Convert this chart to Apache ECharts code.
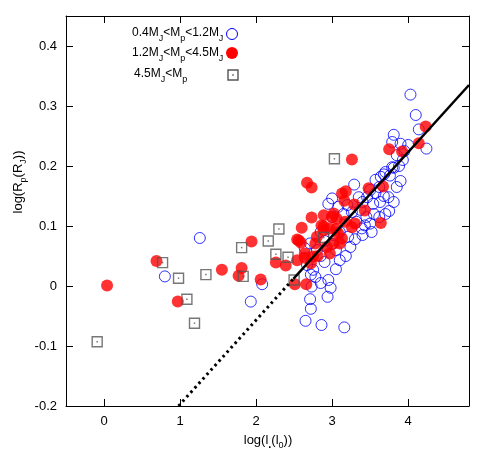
<!DOCTYPE html>
<html>
<head>
<meta charset="utf-8">
<script src="https://cdn.jsdelivr.net/npm/echarts@6/dist/echarts.min.js"></script>
<style>html,body{margin:0;padding:0;background:#fff}#c{width:494px;height:463px}</style>
</head>
<body>
<div id="c"></div>
<script>
// 0.4 MJ < Mp < 1.2 MJ  (open blue circles)
const lowMass = [
  [0.80,0.016],[1.26,0.080],[1.93,-0.026],[2.08,0.003],
  [2.65,-0.058],[2.72,-0.038],[2.71,-0.022],[2.73,-0.001],[2.86,-0.065],[3.16,-0.069],[2.94,-0.018],[2.98,-0.003],
  [2.72,0.019],[2.78,0.015],[2.67,0.035],[2.75,0.027],[2.64,0.063],[2.71,0.071],[2.85,0.050],[2.80,0.060],
  [2.90,0.040],[3.10,0.043],[3.24,0.065],[3.05,0.060],[3.18,0.050],[3.05,0.028],[2.95,0.010],[2.85,0.005],[3.00,0.070],
  [3.02,0.085],[3.21,0.082],[3.39,0.096],[3.52,0.090],[3.43,0.101],[3.50,0.104],[3.32,0.107],[3.37,0.127],[3.26,0.123],
  [3.46,0.148],[3.35,0.148],[3.57,0.155],[3.68,0.150],[3.54,0.137],[3.63,0.140],[3.81,0.140],[3.74,0.148],
  [3.00,0.146],[2.95,0.137],[3.08,0.132],[3.29,0.169],[3.79,0.198],[3.70,0.190],[3.64,0.182],[3.76,0.184],
  [3.68,0.186],[3.57,0.177],[3.81,0.252],[3.79,0.240],[3.90,0.237],[3.85,0.218],[3.93,0.210],[3.81,0.197],
  [4.03,0.319],[4.10,0.285],[4.14,0.261],[4.24,0.229],[3.00,0.115],
  [3.55,0.120],[3.45,0.115],[3.62,0.115],[3.70,0.120],[3.75,0.125],[3.85,0.165],[3.90,0.175],[3.40,0.085],
  [3.30,0.078],[3.10,0.090],[2.90,0.075],[2.85,0.090],[3.15,0.120],[3.20,0.135],[3.40,0.140],[3.50,0.160],
  [3.62,0.165],[3.95,0.225],[4.00,0.235],[3.88,0.200]
];
// 1.2 MJ < Mp < 4.5 MJ  (filled red circles)
const midMass = [
  [0.04,0.001],[0.69,0.0415],[0.97,-0.026],[1.55,0.027],[1.77,0.017],[1.81,0.030],[1.94,0.074],[2.06,0.011],
  [2.26,0.039],[2.39,0.034],[2.51,0.003],[2.66,0.003],[2.54,0.043],[2.64,0.047],[2.72,0.038],[2.81,0.050],
  [2.97,0.054],[2.64,0.054],[2.75,0.049],[2.56,0.076],[2.54,0.0775],[2.59,0.072],[2.60,0.097],[2.73,0.114],
  [2.67,0.172],[2.73,0.164],[2.78,0.071],[3.02,0.071],[3.10,0.071],[3.13,0.079],[2.89,0.093],[2.80,0.082],
  [2.89,0.099],[2.86,0.101],[2.97,0.096],[3.00,0.115],[3.06,0.112],[3.17,0.107],[3.30,0.104],[3.26,0.098],
  [3.02,0.121],[2.89,0.118],[3.29,0.136],[3.43,0.126],[3.13,0.154],[3.18,0.158],[3.16,0.142],[3.48,0.163],
  [3.67,0.166],[3.64,0.105],[3.26,0.211],[3.75,0.228],[3.92,0.224],[4.14,0.238],[4.23,0.266],[3.08,0.088],
  [2.93,0.065],[3.05,0.095]
];
// 4.5 MJ < Mp  (open grey squares)
const highMass = [
  [-0.09,-0.093],[0.77,0.039],[0.98,0.013],[1.09,-0.022],[1.19,-0.062],[1.34,0.019],[1.81,0.064],[1.83,0.016],
  [2.16,0.075],[2.30,0.095],[2.26,0.053],[2.42,0.048],[2.50,0.010],[2.89,0.081],[3.03,0.212]
];
// fitted relation: dotted extrapolation and solid part
const fitDotted = [[0.98,-0.200],[2.49,0.012]];
const fitSolid  = [[2.49,0.012],[4.80,0.335]];
const xTicks = [0,1,2,3,4];
const yTicks = [-0.2,-0.1,0,0.1,0.2,0.3,0.4];

const FONT = '"Liberation Sans", Arial, sans-serif';
const chart = echarts.init(document.getElementById('c'), null, {renderer:'canvas'});
const axisCommon = {
  axisLine:{show:true,onZero:false,lineStyle:{color:'#000',width:1}},
  splitLine:{show:false}
};
const sub = {fontSize:9, verticalAlign:'bottom', padding:[0,0,-4,0], fontFamily:FONT, color:'#000'};
const subDot = {fontSize:11, fontWeight:'bold', verticalAlign:'bottom', padding:[0,0,-4,0], fontFamily:FONT, color:'#000'};
chart.setOption({
  animation:false,
  backgroundColor:'#fff',
  grid:{left:66,right:25,top:16,bottom:57},
  xAxis:[
    Object.assign({type:'value',min:-0.5,max:4.8,position:'bottom',
      axisTick:{show:true,inside:true,length:7,customValues:xTicks,lineStyle:{color:'#000'}},
      axisLabel:{show:true,customValues:xTicks,color:'#000',fontSize:13,fontFamily:FONT,margin:9}},axisCommon),
    Object.assign({type:'value',min:-0.5,max:4.8,position:'top',
      axisTick:{show:true,inside:true,length:7,customValues:xTicks,lineStyle:{color:'#000'}},
      axisLabel:{show:false}},axisCommon)
  ],
  yAxis:[
    Object.assign({type:'value',min:-0.2,max:0.45,position:'left',
      axisTick:{show:true,inside:true,length:7,customValues:yTicks,lineStyle:{color:'#000'}},
      axisLabel:{show:true,customValues:yTicks,color:'#000',fontSize:13,fontFamily:FONT,margin:9,
        formatter:v=>{const r=Math.round(v*10)/10;return r===0?'0':String(r);}}},axisCommon),
    Object.assign({type:'value',min:-0.2,max:0.45,position:'right',
      axisTick:{show:true,inside:true,length:7,customValues:yTicks,lineStyle:{color:'#000'}},
      axisLabel:{show:false}},axisCommon)
  ],
  series:[
    {name:'low',type:'scatter',data:lowMass,symbol:'circle',symbolSize:11,
      itemStyle:{color:'rgba(255,255,255,0)',borderColor:'#0000ff',borderWidth:1},z:2},
    {name:'mid',type:'scatter',data:midMass,symbol:'circle',symbolSize:12,
      itemStyle:{color:'#ff0000'},z:3},
    {name:'high',type:'scatter',data:highMass,symbol:'rect',symbolSize:10,
      itemStyle:{color:'rgba(255,255,255,0)',borderColor:'#555555',borderWidth:1.4},z:4},
    {name:'highDot',type:'scatter',data:highMass,symbol:'rect',symbolSize:1.5,
      itemStyle:{color:'#555555'},z:4,silent:true},
    {name:'fitDot',type:'line',data:fitDotted,symbol:'none',clip:true,
      lineStyle:{color:'#000',width:3,type:[2.5,3.5],cap:'butt'},z:5},
    {name:'fit',type:'line',data:fitSolid,symbol:'none',clip:true,
      lineStyle:{color:'#000',width:2.5},z:5}
  ],
  graphic:[
    {type:'text',x:268,y:440,silent:true,style:{
      text:'log(l{d|.}(l{s|0}))',rich:{s:sub,d:subDot},fontSize:13,fontFamily:FONT,fill:'#000',align:'center',verticalAlign:'middle'}},
    {type:'text',x:18,y:182,rotation:Math.PI/2,silent:true,style:{
      text:'log(R{s|p}(R{s|J}))',rich:{s:sub},fontSize:13,fontFamily:FONT,fill:'#000',align:'center',verticalAlign:'middle'}},
    {type:'text',x:132,y:33,silent:true,style:{
      text:'0.4M{s|J}<M{s|p}<1.2M{s|J}',rich:{s:sub},fontSize:12,fontFamily:FONT,fill:'#000',align:'left',verticalAlign:'middle'}},
    {type:'text',x:132,y:53,silent:true,style:{
      text:'1.2M{s|J}<M{s|p}<4.5M{s|J}',rich:{s:sub},fontSize:12,fontFamily:FONT,fill:'#000',align:'left',verticalAlign:'middle'}},
    {type:'text',x:134,y:74,silent:true,style:{
      text:'4.5M{s|J}<M{s|p}',rich:{s:sub},fontSize:12,fontFamily:FONT,fill:'#000',align:'left',verticalAlign:'middle'}},
    {type:'circle',shape:{cx:232,cy:34,r:5.5},silent:true,style:{fill:'none',stroke:'#0000ff',lineWidth:1}},
    {type:'circle',shape:{cx:232,cy:53,r:6},silent:true,style:{fill:'#ff0000'}},
    {type:'rect',shape:{x:228,y:70,width:10,height:10},silent:true,style:{fill:'none',stroke:'#555555',lineWidth:1.4}},
    {type:'rect',shape:{x:232.3,y:74.3,width:1.5,height:1.5},silent:true,style:{fill:'#555555'}}
  ]
});
</script>
</body>
</html>
